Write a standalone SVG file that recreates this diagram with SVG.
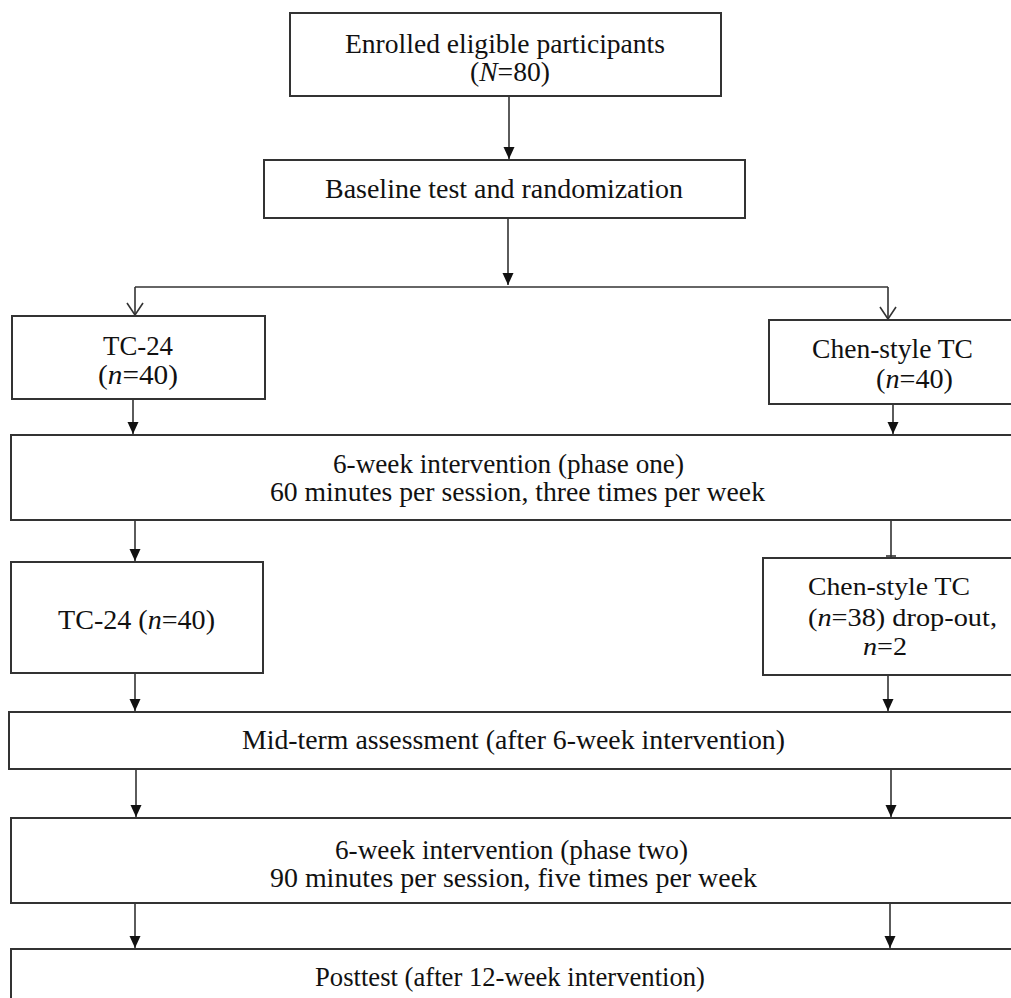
<svg xmlns="http://www.w3.org/2000/svg" width="1011" height="998" viewBox="0 0 1011 998">
<style>
.box{fill:#fff;stroke:#333;stroke-width:2}
.t{font-family:'Liberation Serif','Times New Roman',serif;font-size:27px;fill:#111}
.s{font-size:25px}
.ln{fill:none;stroke:#333;stroke-width:1.6}
</style>
<defs>
<marker id="ah" markerUnits="userSpaceOnUse" markerWidth="12" markerHeight="12" viewBox="0 0 12 12" refX="12" refY="6" orient="auto">
<path d="M0,0.5 L12,6 L0,11.5 z" fill="#111"/>
</marker>
<marker id="ao" markerUnits="userSpaceOnUse" markerWidth="14" markerHeight="18" viewBox="0 0 14 18" refX="13" refY="9" orient="auto">
<path d="M1,1 L13,9 L1,17" fill="none" stroke="#333" stroke-width="1.6"/>
</marker>
</defs>
<rect width="1011" height="998" fill="#fff"/>
<g id="connectors">
<line class="ln" x1="509" y1="96" x2="509" y2="159" marker-end="url(#ah)"/>
<line class="ln" x1="508" y1="218" x2="508" y2="285" marker-end="url(#ah)"/>
<line class="ln" x1="135" y1="287" x2="888" y2="287"/>
<line class="ln" x1="135" y1="287" x2="135" y2="315" marker-end="url(#ao)"/>
<line class="ln" x1="888" y1="287" x2="888" y2="319" marker-end="url(#ao)"/>
<line class="ln" x1="133" y1="399" x2="133" y2="434" marker-end="url(#ah)"/>
<line class="ln" x1="893" y1="404" x2="893" y2="434" marker-end="url(#ah)"/>
<line class="ln" x1="135" y1="520" x2="135" y2="561" marker-end="url(#ah)"/>
<line class="ln" x1="891" y1="520" x2="891" y2="557"/>
<line class="ln" x1="886" y1="556" x2="896" y2="556"/>
<line class="ln" x1="135" y1="673" x2="135" y2="711" marker-end="url(#ah)"/>
<line class="ln" x1="888" y1="675" x2="888" y2="711" marker-end="url(#ah)"/>
<line class="ln" x1="136" y1="769" x2="136" y2="817" marker-end="url(#ah)"/>
<line class="ln" x1="891" y1="769" x2="891" y2="817" marker-end="url(#ah)"/>
<line class="ln" x1="135" y1="903" x2="135" y2="948" marker-end="url(#ah)"/>
<line class="ln" x1="890" y1="903" x2="890" y2="948" marker-end="url(#ah)"/>
</g>
<g id="enrolled">
<rect class="box" x="290" y="13" width="431" height="83"/>
<text class="t" x="345" y="53" textLength="320" lengthAdjust="spacingAndGlyphs">Enrolled eligible participants</text>
<text class="t" x="470" y="81" textLength="80" lengthAdjust="spacingAndGlyphs">(<tspan font-style="italic">N</tspan>=80)</text>
</g>
<g id="baseline">
<rect class="box" x="264" y="160" width="481" height="58"/>
<text class="t" x="325" y="198" textLength="358" lengthAdjust="spacingAndGlyphs">Baseline test and randomization</text>
</g>
<g id="tc24-a">
<rect class="box" x="12" y="316" width="253" height="83"/>
<text class="t" x="103" y="355" textLength="70" lengthAdjust="spacingAndGlyphs">TC-24</text>
<text class="t" x="98" y="384" textLength="80" lengthAdjust="spacingAndGlyphs">(<tspan font-style="italic">n</tspan>=40)</text>
</g>
<g id="chen-a">
<rect class="box" x="769" y="320" width="260" height="84"/>
<text class="t" x="812" y="358" textLength="161" lengthAdjust="spacingAndGlyphs">Chen-style TC</text>
<text class="t" x="876" y="388" textLength="77" lengthAdjust="spacingAndGlyphs">(<tspan font-style="italic">n</tspan>=40)</text>
</g>
<g id="phase-one">
<rect class="box" x="11" y="435" width="1020" height="85"/>
<text class="t" x="333" y="473" textLength="351" lengthAdjust="spacingAndGlyphs">6-week intervention (phase one)</text>
<text class="t" x="270" y="501" textLength="495" lengthAdjust="spacingAndGlyphs">60 minutes per session, three times per week</text>
</g>
<g id="tc24-b">
<rect class="box" x="11" y="562" width="252" height="111"/>
<text class="t" x="58" y="629" textLength="157" lengthAdjust="spacingAndGlyphs">TC-24 (<tspan font-style="italic">n</tspan>=40)</text>
</g>
<g id="chen-b">
<rect class="box" x="763" y="558" width="270" height="117"/>
<text class="t s" x="808" y="595" textLength="162" lengthAdjust="spacingAndGlyphs">Chen-style TC</text>
<text class="t s" x="808" y="626" textLength="189" lengthAdjust="spacingAndGlyphs">(<tspan font-style="italic">n</tspan>=38)  drop-out,</text>
<text class="t s" x="863" y="655" textLength="44" lengthAdjust="spacingAndGlyphs"><tspan font-style="italic">n</tspan>=2</text>
</g>
<g id="midterm">
<rect class="box" x="9" y="712" width="1022" height="57"/>
<text class="t" x="242" y="749" textLength="543" lengthAdjust="spacingAndGlyphs">Mid-term assessment (after 6-week intervention)</text>
</g>
<g id="phase-two">
<rect class="box" x="11" y="818" width="1020" height="85"/>
<text class="t" x="335" y="859" textLength="353" lengthAdjust="spacingAndGlyphs">6-week intervention (phase two)</text>
<text class="t" x="270" y="887" textLength="487" lengthAdjust="spacingAndGlyphs">90 minutes per session, five times per week</text>
</g>
<g id="posttest">
<rect class="box" x="11" y="949" width="1020" height="70"/>
<text class="t" x="315" y="986" textLength="390" lengthAdjust="spacingAndGlyphs">Posttest (after 12-week intervention)</text>
</g>
</svg>
